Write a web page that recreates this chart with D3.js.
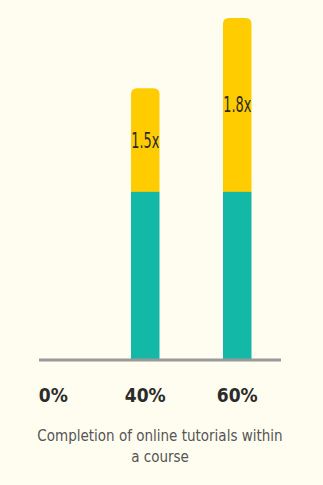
<!DOCTYPE html>
<html>
<head>
<meta charset="utf-8">
<script src="https://cdn.jsdelivr.net/npm/d3@7"></script>
<style>
html, body { margin: 0; padding: 0; background: #fffcf0; }
svg { display: block; }
</style>
</head>
<body>
<div id="chart"></div>
<script>
// data
var categories = ["0%", "40%", "60%"];
var baseValues = [0, 1, 1];          // teal part
var extraValues = [0, 0.62, 1.04];   // yellow part on top
var extraLabels = ["", "1.5x", "1.8x"];
var titleLines = ["Completion of online tutorials within", "a course"];

var W = 323, H = 485;
var font = "'DejaVu Sans Condensed', 'DejaVu Sans', sans-serif";

var svg = d3.select("#chart").append("svg").attr("width", W).attr("height", H);
svg.append("rect").attr("width", W).attr("height", H).attr("fill", "#fffcf0");

var x = d3.scaleBand().domain(categories).range([39, 251.5]).paddingInner(0.69).paddingOuter(0);
var y = d3.scaleLinear().domain([0, 2.04]).range([359, 18]);

var rows = categories.map(function(c, i) {
	return { cat: c, base: baseValues[i], extra: extraValues[i], label: extraLabels[i] };
});

// rounded top corners
function topRounded(x0, y0, w, h, r) {
	if (h <= 0) return "";
	r = Math.min(r, h, w / 2);
	return "M" + x0 + "," + (y0 + h) +
		" L" + x0 + "," + (y0 + r) +
		" Q" + x0 + "," + y0 + " " + (x0 + r) + "," + y0 +
		" L" + (x0 + w - r) + "," + y0 +
		" Q" + (x0 + w) + "," + y0 + " " + (x0 + w) + "," + (y0 + r) +
		" L" + (x0 + w) + "," + (y0 + h) + " Z";
}

var g = svg.append("g");

g.selectAll("path.extra").data(rows.filter(function(d) { return d.extra > 0; }))
	.enter().append("path").attr("class", "extra")
	.attr("fill", "#ffcc00")
	.attr("d", function(d) {
		var top = y(d.base + d.extra);
		return topRounded(x(d.cat), top, x.bandwidth(), y(d.base) - top + 1, 6);
	});

g.selectAll("rect.base").data(rows.filter(function(d) { return d.base > 0; }))
	.enter().append("rect").attr("class", "base")
	.attr("fill", "#14b8a6")
	.attr("x", function(d) { return x(d.cat); })
	.attr("y", function(d) { return y(d.base); })
	.attr("width", x.bandwidth())
	.attr("height", function(d) { return y(0) - y(d.base); });

g.selectAll("text.lbl").data(rows.filter(function(d) { return d.label; }))
	.enter().append("text").attr("class", "lbl")
	.attr("x", function(d) { return x(d.cat) + x.bandwidth() / 2; })
	.attr("y", function(d) { return (y(d.base) + y(d.base + d.extra)) / 2; })
	.attr("dy", "0.36em")
	.attr("text-anchor", "middle")
	.attr("font-family", font)
	.attr("font-size", 21)
	.attr("textLength", 28)
	.attr("lengthAdjust", "spacingAndGlyphs")
	.attr("fill", "#2b2b2b")
	.text(function(d) { return d.label; });

// axis line
svg.append("line").attr("x1", 39).attr("x2", 281).attr("y1", y(0) + 1).attr("y2", y(0) + 1)
	.attr("stroke", "#999").attr("stroke-width", 3);

// tick labels
svg.selectAll("text.tick").data(categories).enter().append("text").attr("class", "tick")
	.attr("x", function(d) { return x(d) + x.bandwidth() / 2; })
	.attr("y", 402)
	.attr("text-anchor", "middle")
	.attr("font-family", font)
	.attr("font-weight", "bold")
	.attr("font-size", 19)
	.attr("fill", "#2b2b2b")
	.text(function(d) { return d; });

// title
svg.selectAll("text.title").data(titleLines).enter().append("text").attr("class", "title")
	.attr("x", 160)
	.attr("y", function(d, i) { return 441 + i * 21; })
	.attr("text-anchor", "middle")
	.attr("font-family", font)
	.attr("font-size", 15)
	.attr("fill", "#555")
	.text(function(d) { return d; });
</script>
</body>
</html>
